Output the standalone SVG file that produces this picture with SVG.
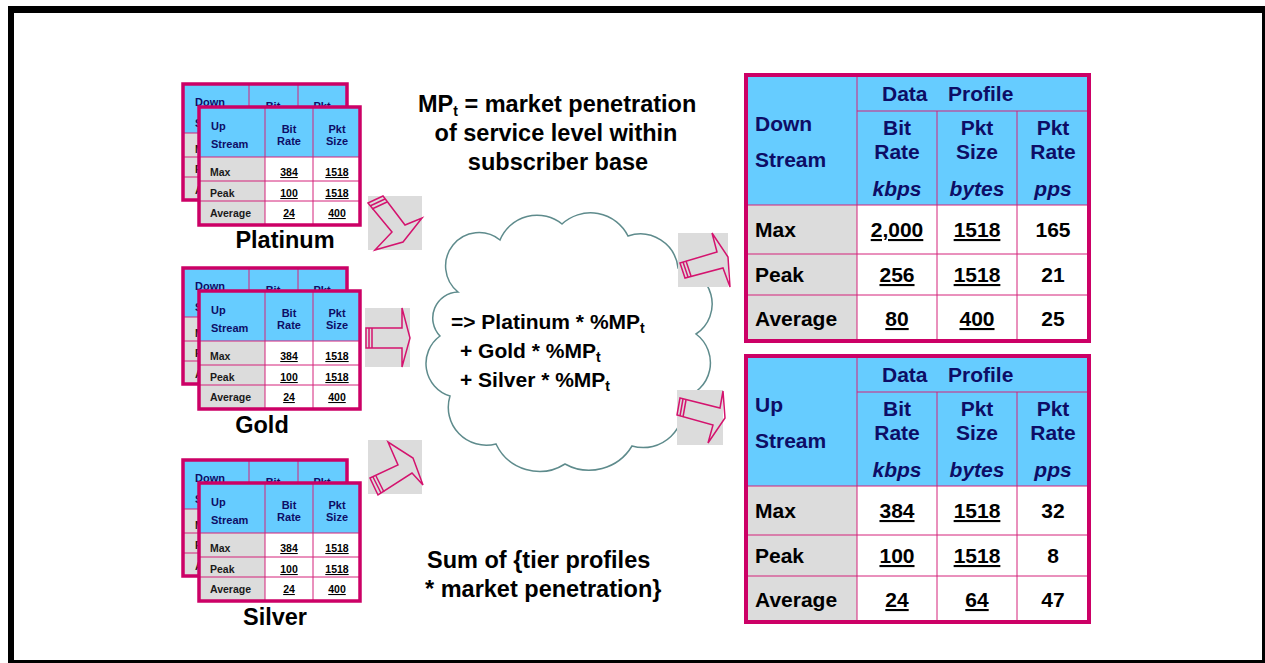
<svg xmlns="http://www.w3.org/2000/svg" width="1265" height="663" viewBox="0 0 1265 663">
<style>
.bd{fill:none;stroke:#cc0066;stroke-width:3.5}
.bb{fill:none;stroke:#cc0066;stroke-width:4}
.ln{stroke:#d4237a;stroke-width:1;fill:none}
.hd{fill:#66ccff}
.gy{fill:#dcdcdc}
.wh{fill:#ffffff}
.st{font-family:"Liberation Sans",Arial,sans-serif;font-weight:bold;font-size:11px;fill:#0d0d66}
.sr{font-family:"Liberation Sans",Arial,sans-serif;font-weight:bold;font-size:10.5px;fill:#1a1a1a}
.sv{font-family:"Liberation Sans",Arial,sans-serif;font-weight:bold;font-size:10.5px;fill:#000;text-anchor:middle;text-decoration:underline}
.lb{font-family:"Liberation Sans",Arial,sans-serif;font-weight:bold;font-size:23.5px;fill:#000;text-anchor:middle}
.bt{font-family:"Liberation Sans",Arial,sans-serif;font-weight:bold;font-size:21px;fill:#0d0d66}
.bc{font-family:"Liberation Sans",Arial,sans-serif;font-weight:bold;font-size:21px;fill:#0d0d66;text-anchor:middle}
.bi{font-family:"Liberation Sans",Arial,sans-serif;font-weight:bold;font-style:italic;font-size:21px;fill:#0d0d66;text-anchor:middle}
.br{font-family:"Liberation Sans",Arial,sans-serif;font-weight:bold;font-size:21px;fill:#000}
.bv{font-family:"Liberation Sans",Arial,sans-serif;font-weight:bold;font-size:21px;fill:#000;text-anchor:middle}
.bu{text-decoration:underline}
.tx{font-family:"Liberation Sans",Arial,sans-serif;font-weight:bold;font-size:23.5px;fill:#000}
.cx{font-family:"Liberation Sans",Arial,sans-serif;font-weight:bold;font-size:21px;fill:#000}
.sub{font-size:14px}
.sq{fill:#dcdcdc}
.ar{fill:none;stroke:#d4136e;stroke-width:1.5;stroke-linejoin:miter}
.cl{fill:#ffffff;stroke:#5e8b8c;stroke-width:1.5}
</style>
<rect x="0" y="0" width="1265" height="663" fill="#ffffff"/>
<g id="frame" fill="#000">
<rect x="8" y="6" width="1257" height="7"/>
<rect x="8" y="6" width="6" height="657"/>
<rect x="1262" y="6" width="3" height="657"/>
<rect x="8" y="660" width="1257" height="3"/>
</g>

<g id="platinum">
<g id="platinum-down">
<rect class="wh" x="183" y="84" width="164" height="116"/>
<rect class="hd" x="183" y="84" width="164" height="49"/>
<rect class="gy" x="183" y="133" width="66" height="67"/>
<path class="ln" d="M249 84V200M298 84V200M183 133H347M183 157H347M183 177H347"/>
<rect class="bd" x="183" y="84" width="164" height="116"/>
<text class="st" x="195" y="106">Down</text>
<text class="st" x="195" y="127">S</text>
<text class="st" x="273" y="110" text-anchor="middle">Bit</text>
<text class="st" x="322" y="110" text-anchor="middle">Pkt</text>
<text class="sr" x="195" y="153">M</text>
<text class="sr" x="195" y="173">P</text>
<text class="sr" x="195" y="194">A</text>
</g>
<g id="platinum-up">
<rect class="wh" x="199" y="107" width="161" height="118"/>
<rect class="hd" x="199" y="107" width="161" height="50"/>
<rect class="gy" x="199" y="157" width="66" height="68"/>
<path class="ln" d="M265 107V225M313 107V225M199 157H360M199 181H360M199 201H360"/>
<rect class="bd" x="199" y="107" width="161" height="118"/>
<text class="st" x="211" y="130">Up</text>
<text class="st" x="211" y="148">Stream</text>
<text class="st" x="289" y="133" text-anchor="middle">Bit</text>
<text class="st" x="289" y="145" text-anchor="middle">Rate</text>
<text class="st" x="337" y="133" text-anchor="middle">Pkt</text>
<text class="st" x="337" y="145" text-anchor="middle">Size</text>
<text class="sr" x="210" y="176">Max</text>
<text class="sr" x="210" y="197">Peak</text>
<text class="sr" x="210" y="217">Average</text>
<text class="sv" x="289" y="176">384</text>
<text class="sv" x="337" y="176">1518</text>
<text class="sv" x="289" y="197">100</text>
<text class="sv" x="337" y="197">1518</text>
<text class="sv" x="289" y="217">24</text>
<text class="sv" x="337" y="217">400</text>
</g>
<text class="lb" x="285" y="248">Platinum</text>
</g>

<g id="gold" transform="translate(0,184)">
<g id="gold-down">
<rect class="wh" x="183" y="84" width="164" height="116"/>
<rect class="hd" x="183" y="84" width="164" height="49"/>
<rect class="gy" x="183" y="133" width="66" height="67"/>
<path class="ln" d="M249 84V200M298 84V200M183 133H347M183 157H347M183 177H347"/>
<rect class="bd" x="183" y="84" width="164" height="116"/>
<text class="st" x="195" y="106">Down</text>
<text class="st" x="195" y="127">S</text>
<text class="st" x="273" y="110" text-anchor="middle">Bit</text>
<text class="st" x="322" y="110" text-anchor="middle">Pkt</text>
<text class="sr" x="195" y="153">M</text>
<text class="sr" x="195" y="173">P</text>
<text class="sr" x="195" y="194">A</text>
</g>
<g id="gold-up">
<rect class="wh" x="199" y="107" width="161" height="118"/>
<rect class="hd" x="199" y="107" width="161" height="50"/>
<rect class="gy" x="199" y="157" width="66" height="68"/>
<path class="ln" d="M265 107V225M313 107V225M199 157H360M199 181H360M199 201H360"/>
<rect class="bd" x="199" y="107" width="161" height="118"/>
<text class="st" x="211" y="130">Up</text>
<text class="st" x="211" y="148">Stream</text>
<text class="st" x="289" y="133" text-anchor="middle">Bit</text>
<text class="st" x="289" y="145" text-anchor="middle">Rate</text>
<text class="st" x="337" y="133" text-anchor="middle">Pkt</text>
<text class="st" x="337" y="145" text-anchor="middle">Size</text>
<text class="sr" x="210" y="176">Max</text>
<text class="sr" x="210" y="197">Peak</text>
<text class="sr" x="210" y="217">Average</text>
<text class="sv" x="289" y="176">384</text>
<text class="sv" x="337" y="176">1518</text>
<text class="sv" x="289" y="197">100</text>
<text class="sv" x="337" y="197">1518</text>
<text class="sv" x="289" y="217">24</text>
<text class="sv" x="337" y="217">400</text>
</g>
<text class="lb" x="262" y="249">Gold</text>
</g>

<g id="silver" transform="translate(0,376)">
<g id="silver-down">
<rect class="wh" x="183" y="84" width="164" height="116"/>
<rect class="hd" x="183" y="84" width="164" height="49"/>
<rect class="gy" x="183" y="133" width="66" height="67"/>
<path class="ln" d="M249 84V200M298 84V200M183 133H347M183 157H347M183 177H347"/>
<rect class="bd" x="183" y="84" width="164" height="116"/>
<text class="st" x="195" y="106">Down</text>
<text class="st" x="195" y="127">S</text>
<text class="st" x="273" y="110" text-anchor="middle">Bit</text>
<text class="st" x="322" y="110" text-anchor="middle">Pkt</text>
<text class="sr" x="195" y="153">M</text>
<text class="sr" x="195" y="173">P</text>
<text class="sr" x="195" y="194">A</text>
</g>
<g id="silver-up">
<rect class="wh" x="199" y="107" width="161" height="118"/>
<rect class="hd" x="199" y="107" width="161" height="50"/>
<rect class="gy" x="199" y="157" width="66" height="68"/>
<path class="ln" d="M265 107V225M313 107V225M199 157H360M199 181H360M199 201H360"/>
<rect class="bd" x="199" y="107" width="161" height="118"/>
<text class="st" x="211" y="130">Up</text>
<text class="st" x="211" y="148">Stream</text>
<text class="st" x="289" y="133" text-anchor="middle">Bit</text>
<text class="st" x="289" y="145" text-anchor="middle">Rate</text>
<text class="st" x="337" y="133" text-anchor="middle">Pkt</text>
<text class="st" x="337" y="145" text-anchor="middle">Size</text>
<text class="sr" x="210" y="176">Max</text>
<text class="sr" x="210" y="197">Peak</text>
<text class="sr" x="210" y="217">Average</text>
<text class="sv" x="289" y="176">384</text>
<text class="sv" x="337" y="176">1518</text>
<text class="sv" x="289" y="197">100</text>
<text class="sv" x="337" y="197">1518</text>
<text class="sv" x="289" y="217">24</text>
<text class="sv" x="337" y="217">400</text>
</g>
<text class="lb" x="275" y="249">Silver</text>
</g>

<g id="cloud">
<path class="cl" d="M458 292 A32 32 0 0 1 500 240 A40 40 0 0 1 562 224 A42 42 0 0 1 628 236 A38 38 0 0 1 678 268 A36 36 0 0 1 696 334 A36 36 0 0 1 682 398 A40 40 0 0 1 632 446 A50 50 0 0 1 565 464 A48 48 0 0 1 496 444 A38 38 0 0 1 450 396 A34 34 0 0 1 440 336 A26 26 0 0 1 458 292 Z"/>
<text class="cx" x="451" y="329">=&gt; Platinum * %MP<tspan class="sub" dy="4">t</tspan></text>
<text class="cx" x="460" y="358">+ Gold * %MP<tspan class="sub" dy="4">t</tspan></text>
<text class="cx" x="460" y="387">+ Silver * %MP<tspan class="sub" dy="4">t</tspan></text>
</g>

<g id="connectors">
<g id="arrow-platinum">
<rect class="sq" x="368" y="196" width="54" height="54"/>
<polygon class="ar" points="368,203 383,196 405,225 422,218 403,242 375,250 392,232"/>
<path class="ar" d="M370,206 L385,199 M372,209 L387,202"/>
</g>
<g id="arrow-gold">
<rect class="sq" x="365" y="308" width="45" height="59"/>
<polygon class="ar" points="366,328 402,328 402,308 410,338 402,367 402,348 366,348"/>
<path class="ar" d="M369,328V348M372,328V348"/>
</g>
<g id="arrow-silver">
<rect class="sq" x="368" y="440" width="54" height="54"/>
<polygon class="ar" points="370,478 398,465 388,442 413,458 423,485 412,473 378,495"/>
<path class="ar" d="M373,477 L381,493 M376,476 L384,492"/>
</g>
<g id="arrow-down">
<rect class="sq" x="678" y="233" width="50" height="54"/>
<polygon class="ar" points="680,263 717,252 712,233 728,257 730,287 723,268 685,278"/>
<path class="ar" d="M683,262 L688,277 M686,261 L691,276"/>
</g>
<g id="arrow-up">
<rect class="sq" x="677" y="390" width="46" height="55"/>
<polygon class="ar" points="680,398 720,408 723,391 725,418 708,443 713,425 677,415"/>
<path class="ar" d="M683,399 L680,416 M686,400 L683,417"/>
</g>
</g>

<g id="note-top">
<text class="tx" x="418" y="112">MP<tspan class="sub" dy="4">t</tspan><tspan dy="-4"> = market penetration</tspan></text>
<text class="tx" x="556" y="141" text-anchor="middle">of service level within</text>
<text class="tx" x="558" y="170" text-anchor="middle">subscriber base</text>
</g>

<g id="note-bottom">
<text class="tx" x="427" y="568">Sum of {tier profiles</text>
<text class="tx" x="425" y="597">* market penetration}</text>
</g>

<g id="downstream-table">
<rect class="wh" x="746" y="75" width="343" height="266"/>
<rect class="hd" x="746" y="75" width="343" height="130"/>
<rect class="gy" x="746" y="205" width="111" height="136"/>
<path class="ln" d="M857 75V341M937 111V341M1017 111V341M857 111H1089M746 205H1089M746 254H1089M746 295H1089"/>
<rect class="bb" x="746" y="75" width="343" height="266"/>
<text class="bt" x="882" y="101">Data</text>
<text class="bt" x="948" y="101">Profile</text>
<text class="bt" x="755" y="131">Down</text>
<text class="bt" x="755" y="167">Stream</text>
<text class="bc" x="897" y="135">Bit</text>
<text class="bc" x="897" y="159">Rate</text>
<text class="bi" x="897" y="196">kbps</text>
<text class="bc" x="977" y="135">Pkt</text>
<text class="bc" x="977" y="159">Size</text>
<text class="bi" x="977" y="196">bytes</text>
<text class="bc" x="1053" y="135">Pkt</text>
<text class="bc" x="1053" y="159">Rate</text>
<text class="bi" x="1053" y="196">pps</text>
<text class="br" x="755" y="237">Max</text>
<text class="br" x="755" y="282">Peak</text>
<text class="br" x="755" y="326">Average</text>
<text class="bv bu" x="897" y="237">2,000</text>
<text class="bv bu" x="977" y="237">1518</text>
<text class="bv" x="1053" y="237">165</text>
<text class="bv bu" x="897" y="282">256</text>
<text class="bv bu" x="977" y="282">1518</text>
<text class="bv" x="1053" y="282">21</text>
<text class="bv bu" x="897" y="326">80</text>
<text class="bv bu" x="977" y="326">400</text>
<text class="bv" x="1053" y="326">25</text>
</g>

<g id="upstream-table" transform="translate(0,281)">
<rect class="wh" x="746" y="75" width="343" height="266"/>
<rect class="hd" x="746" y="75" width="343" height="130"/>
<rect class="gy" x="746" y="205" width="111" height="136"/>
<path class="ln" d="M857 75V341M937 111V341M1017 111V341M857 111H1089M746 205H1089M746 254H1089M746 295H1089"/>
<rect class="bb" x="746" y="75" width="343" height="266"/>
<text class="bt" x="882" y="101">Data</text>
<text class="bt" x="948" y="101">Profile</text>
<text class="bt" x="755" y="131">Up</text>
<text class="bt" x="755" y="167">Stream</text>
<text class="bc" x="897" y="135">Bit</text>
<text class="bc" x="897" y="159">Rate</text>
<text class="bi" x="897" y="196">kbps</text>
<text class="bc" x="977" y="135">Pkt</text>
<text class="bc" x="977" y="159">Size</text>
<text class="bi" x="977" y="196">bytes</text>
<text class="bc" x="1053" y="135">Pkt</text>
<text class="bc" x="1053" y="159">Rate</text>
<text class="bi" x="1053" y="196">pps</text>
<text class="br" x="755" y="237">Max</text>
<text class="br" x="755" y="282">Peak</text>
<text class="br" x="755" y="326">Average</text>
<text class="bv bu" x="897" y="237">384</text>
<text class="bv bu" x="977" y="237">1518</text>
<text class="bv" x="1053" y="237">32</text>
<text class="bv bu" x="897" y="282">100</text>
<text class="bv bu" x="977" y="282">1518</text>
<text class="bv" x="1053" y="282">8</text>
<text class="bv bu" x="897" y="326">24</text>
<text class="bv bu" x="977" y="326">64</text>
<text class="bv" x="1053" y="326">47</text>
</g>
</svg>
